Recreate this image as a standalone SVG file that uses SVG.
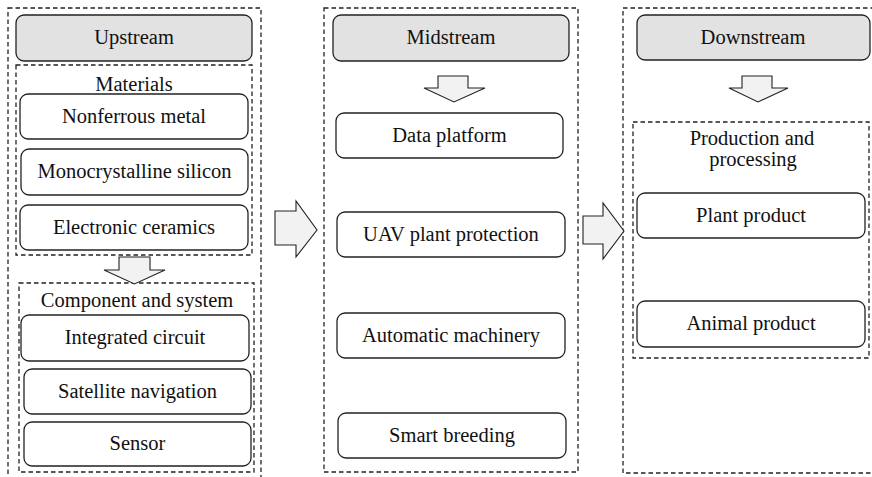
<svg xmlns="http://www.w3.org/2000/svg" width="872" height="477" viewBox="0 0 872 477" font-family="Liberation Serif, Times New Roman, Times, DejaVu Serif, serif">
<style>
.dash{fill:none;stroke:#222;stroke-width:1.3;stroke-dasharray:4.5 3}
.box{fill:#fff;stroke:#222;stroke-width:1.3}
.hdr{fill:#e2e2e2;stroke:#222;stroke-width:1.3}
.arr{fill:#f2f2f2;stroke:#222;stroke-width:1.1;stroke-linejoin:miter}
.t{font-size:20.5px;fill:#111;text-anchor:middle}
</style>
<rect width="872" height="477" fill="#fff"/>
<g id="upstream">
<rect class="dash" x="8" y="8" width="253" height="490"/>
<rect class="hdr" x="16" y="15" width="236" height="46" rx="8"/>
<text class="t" x="134" y="44">Upstream</text>
</g>
<g id="materials">
<rect class="dash" x="16" y="65" width="236" height="190"/>
<text class="t" x="134" y="91">Materials</text>
</g>
<g id="nonferrous"><rect class="box" x="20" y="94" width="228" height="45" rx="8"/><text class="t" x="134" y="123">Nonferrous metal</text></g>
<g id="mono"><rect class="box" x="21" y="149" width="227" height="46" rx="8"/><text class="t" x="134.5" y="178">Monocrystalline silicon</text></g>
<g id="ceramics"><rect class="box" x="20" y="205" width="228" height="45" rx="8"/><text class="t" x="134" y="234">Electronic ceramics</text></g>
<g id="component">
<rect class="dash" x="19" y="283" width="235" height="189"/>
<text class="t" x="137" y="307">Component and system</text>
</g>
<g id="ic"><rect class="box" x="21" y="315" width="228" height="46" rx="8"/><text class="t" x="135" y="344">Integrated circuit</text></g>
<g id="satnav"><rect class="box" x="24" y="369" width="227" height="45" rx="8"/><text class="t" x="137.5" y="398">Satellite navigation</text></g>
<g id="sensor"><rect class="box" x="24" y="422" width="227" height="44" rx="8"/><text class="t" x="137.5" y="450">Sensor</text></g>
<g id="midstream">
<rect class="dash" x="324" y="8" width="254" height="464"/>
<rect class="hdr" x="333" y="15" width="236" height="46" rx="8"/>
<text class="t" x="451" y="44">Midstream</text>
</g>
<g id="dataplatform"><rect class="box" x="336" y="113" width="227" height="45" rx="8"/><text class="t" x="449.5" y="142">Data platform</text></g>
<g id="uav"><rect class="box" x="337" y="212" width="228" height="45" rx="8"/><text class="t" x="451" y="241">UAV plant protection</text></g>
<g id="machinery"><rect class="box" x="337" y="313" width="228" height="45" rx="8"/><text class="t" x="451" y="342">Automatic machinery</text></g>
<g id="breeding"><rect class="box" x="338" y="413" width="228" height="45" rx="8"/><text class="t" x="452" y="442">Smart breeding</text></g>
<g id="downstream">
<rect class="dash" x="623" y="8" width="270" height="465"/>
<rect class="hdr" x="637" y="15" width="233" height="45" rx="8"/>
<text class="t" x="753" y="44">Downstream</text>
</g>
<g id="production">
<rect class="dash" x="633" y="122" width="236" height="236"/>
<text class="t" x="752" y="145">Production and</text>
<text class="t" x="753" y="166">processing</text>
</g>
<g id="plant"><rect class="box" x="637" y="193" width="228" height="45" rx="8"/><text class="t" x="751" y="222">Plant product</text></g>
<g id="animal"><rect class="box" x="637" y="301" width="228" height="46" rx="8"/><text class="t" x="751" y="330">Animal product</text></g>
<g id="connectors">
<path class="arr" d="M119,257 H150 V270 H165 L134.5,284 L104,270 H119 Z"/>
<path class="arr" d="M438,76 H468 V88 H485 L454,102 L424,88 H438 Z"/>
<path class="arr" d="M742,76 H772 V88 H788 L758,102 L729,88 H742 Z"/>
<path class="arr" d="M275,211 H296 V201 L317,230 L296,257 V245 H275 Z"/>
<path class="arr" d="M583,216 H603 V203 L624,231 L603,259 V244 H583 Z"/>
</g>
</svg>
